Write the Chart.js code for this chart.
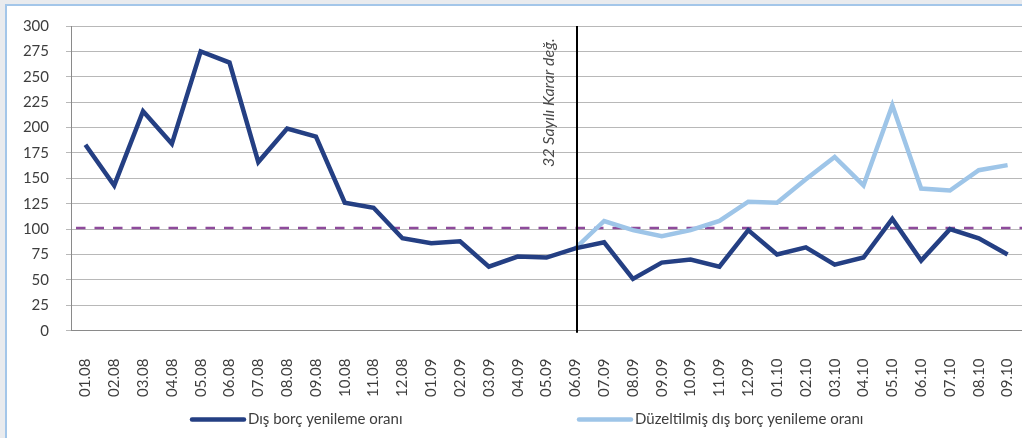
<!DOCTYPE html>
<html lang="tr">
<head>
<meta charset="utf-8">
<title>Dış borç yenileme oranı</title>
<script src="https://cdn.jsdelivr.net/npm/chart.js@4.4.1/dist/chart.umd.min.js"></script>
<style>
  html, body { margin: 0; padding: 0; background: #e9ebee; overflow: hidden; }
  #frame {
    position: absolute; left: 5px; top: 4px; width: 1100px; height: 500px;
    background: #fff; border-left: 2px solid #a3c6e9; border-top: 2px solid #a3c6e9;
  }
  #wrap { position: absolute; left: 0; top: 0; width: 1022px; height: 438px; }
</style>
</head>
<body>
<div id="frame"></div>
<div id="wrap"><canvas id="renewalChart" width="1022" height="438"></canvas></div>
<script>
// months (mm.yy)
const categories = ['01.08', '02.08', '03.08', '04.08', '05.08', '06.08', '07.08', '08.08', '09.08', '10.08', '11.08', '12.08',
                    '01.09', '02.09', '03.09', '04.09', '05.09', '06.09', '07.09', '08.09', '09.09', '10.09', '11.09', '12.09',
                    '01.10', '02.10', '03.10', '04.10', '05.10', '06.10', '07.10', '08.10', '09.10'];

// external debt rollover ratio (%)
const renewalRate = [183, 143, 216, 184, 275, 264, 166, 199, 191, 126, 121, 91,
                     86, 88, 63, 73, 72, 81, 87, 51, 67, 70, 63, 99,
                     75, 82, 65, 72, 110, 69, 100, 91, 75];

// adjusted ratio, starts at the decision date
const adjustedRate = [null, null, null, null, null, null, null, null, null, null, null, null,
                      null, null, null, null, null, 81, 108, 99, 93, 99, 108, 127,
                      126, 149, 171, 143, 222, 140, 138, 158, 163];

const yTicks = [0, 25, 50, 75, 100, 125, 150, 175, 200, 225, 250, 275, 300];
const refLevel = 101;
const markerIndex = 17; // 06.09
const markerText = '32 Sayılı Karar değ.';

const fontFamily = 'Lato, "Open Sans", sans-serif';
const textColor = '#3d3d3d';

// dashed 100 line, decision marker and legend
const overlay = {
  id: 'overlay',
  beforeDatasetsDraw(chart) {
    const { ctx, chartArea, scales } = chart;
    const y = scales.y.getPixelForValue(refLevel);
    ctx.save();
    ctx.strokeStyle = '#8e4b9b';
    ctx.lineWidth = 2.5;
    ctx.setLineDash([9.5, 9]);
    ctx.beginPath();
    ctx.moveTo(chartArea.left + 5, y);
    ctx.lineTo(chartArea.right, y);
    ctx.stroke();
    ctx.restore();
  },
  afterDatasetsDraw(chart) {
    const { ctx, chartArea, scales } = chart;
    const x = Math.round(scales.x.getPixelForValue(markerIndex)) + 2;
    ctx.save();
    ctx.strokeStyle = '#000';
    ctx.lineWidth = 2;
    ctx.beginPath();
    ctx.moveTo(x, chartArea.top);
    ctx.lineTo(x, chartArea.bottom + 2);
    ctx.stroke();

    ctx.translate(x - 28, chartArea.top + 141);
    ctx.rotate(-Math.PI / 2);
    ctx.fillStyle = '#4a4a4a';
    ctx.font = 'italic 16px ' + fontFamily;
    ctx.textAlign = 'left';
    ctx.textBaseline = 'middle';
    ctx.fillText(markerText, 0, 0);
    ctx.restore();
  },
  afterDraw(chart) {
    const { ctx } = chart;
    const starts = [190, 577];
    const y = 419.5;
    ctx.save();
    ctx.font = '15px ' + fontFamily;
    ctx.textBaseline = 'middle';
    chart.data.datasets.forEach((ds, i) => {
      ctx.strokeStyle = ds.borderColor;
      ctx.lineWidth = 4.5;
      ctx.lineCap = 'round';
      ctx.beginPath();
      ctx.moveTo(starts[i] + 2, y);
      ctx.lineTo(starts[i] + 54, y);
      ctx.stroke();
      ctx.fillStyle = textColor;
      ctx.fillText(ds.label, starts[i] + 58, y);
    });
    ctx.restore();
  }
};

const ctx = document.getElementById('renewalChart').getContext('2d');

const renewalChart = new Chart(ctx, {
  type: 'line',
  data: {
    labels: categories,
    datasets: [
      {
        label: 'Dış borç yenileme oranı',
        data: renewalRate,
        borderColor: '#243f83',
        borderWidth: 4.5,
        pointRadius: 0,
        tension: 0
      },
      {
        label: 'Düzeltilmiş dış borç yenileme oranı',
        data: adjustedRate,
        borderColor: '#9ec5e8',
        borderWidth: 4.5,
        pointRadius: 0,
        tension: 0,
        order: 1
      }
    ]
  },
  options: {
    responsive: false,
    animation: false,
    layout: {
      padding: { top: 22, right: 0, bottom: 21, left: 0 }
    },
    plugins: {
      legend: { display: false },
      tooltip: { enabled: false }
    },
    scales: {
      x: {
        offset: true,
        afterFit: scale => { scale.paddingRight = 0; scale.paddingLeft = 0; },
        grid: { display: false },
        border: { color: '#8a8a8a', width: 1 },
        ticks: {
          color: textColor,
          font: { family: fontFamily, size: 15 },
          minRotation: 90,
          maxRotation: 90,
          padding: 20,
          autoSkip: false
        }
      },
      y: {
        min: 0,
        max: 300,
        afterBuildTicks: scale => { scale.ticks = yTicks.map(v => ({ value: v })); },
        afterFit: scale => { scale.width = 71; },
        grid: { color: '#b8b8b8', tickLength: 5 },
        border: { color: '#8a8a8a', width: 1 },
        ticks: {
          color: textColor,
          font: { family: fontFamily, size: 15 },
          padding: 17
        }
      }
    }
  },
  plugins: [overlay]
});
</script>
</body>
</html>
